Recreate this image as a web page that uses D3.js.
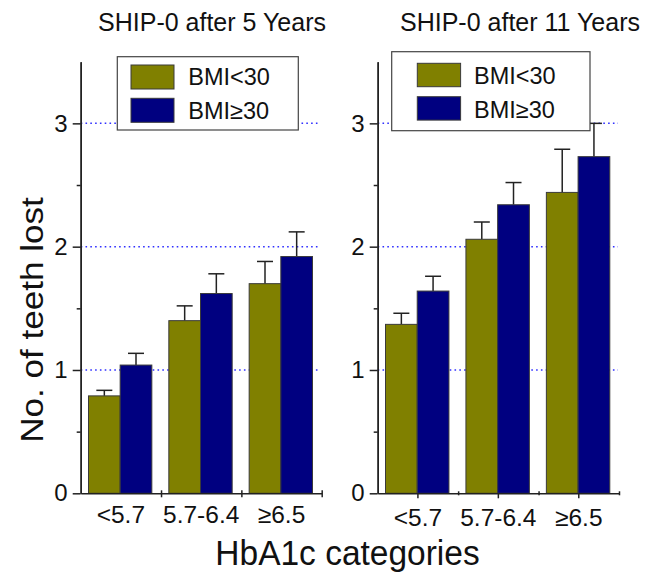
<!DOCTYPE html>
<html>
<head>
<meta charset="utf-8">
<script src="https://cdn.jsdelivr.net/npm/d3@7"></script>
<style>
  html, body { margin: 0; padding: 0; background: #fff; }
  svg { display: block; font-family: "Liberation Sans", Arial, sans-serif; }
</style>
</head>
<body>
<svg id="chart" width="667" height="574"></svg>
<script>
// HbA1c categories on the x axis
const categories = ["<5.7", "5.7-6.4", "\u22656.5"];
const groups = ["BMI<30", "BMI\u226530"];
const panelTitles = ["SHIP-0 after 5 Years", "SHIP-0 after 11 Years"];

// Mean number of teeth lost (and upper error) after 5 years
const fiveYrLowBmi = [0.79, 1.40, 1.70];
const fiveYrLowBmiErr = [0.045, 0.12, 0.18];
const fiveYrHighBmi = [1.04, 1.62, 1.92];
const fiveYrHighBmiErr = [0.095, 0.16, 0.20];

// Mean number of teeth lost (and upper error) after 11 years
const elevenYrLowBmi = [1.37, 2.06, 2.44];
const elevenYrLowBmiErr = [0.09, 0.14, 0.35];
const elevenYrHighBmi = [1.64, 2.34, 2.73];
const elevenYrHighBmiErr = [0.12, 0.18, 0.27];

const yMajorTicks = [0, 1, 2, 3];
const yMinorTicks = [0.5, 1.5, 2.5];
const gridValues = [1, 2, 3];

const colors = { "BMI<30": "#808000", "BMI\u226530": "#000080" };
const font = '"Liberation Sans", Arial, sans-serif';

const svg = d3.select("#chart");

const y = d3.scaleLinear().domain([0, 3.5]).range([493.3, 61.7]);

const panels = [
  {
    title: panelTitles[0], titleX: 212, x0: 80.7, x1: 321.7,
    low: fiveYrLowBmi, lowErr: fiveYrLowBmiErr,
    high: fiveYrHighBmi, highErr: fiveYrHighBmiErr,
    ticksAtCenters: false, labelY: 523,
    legend: { x: 117.3, y: 56.7, w: 181, h: 73.3, sx: 131, sw: 43, sh: 24,
              rows: [65, 98.3], tx: 188.3, base: [85, 119.3] }
  },
  {
    title: panelTitles[1], titleX: 520, x0: 377.7, x1: 619,
    low: elevenYrLowBmi, lowErr: elevenYrLowBmiErr,
    high: elevenYrHighBmi, highErr: elevenYrHighBmiErr,
    ticksAtCenters: true, labelY: 526,
    legend: { x: 391.7, y: 51.7, w: 198.3, h: 79, sx: 417.3, sw: 43.3, sh: 23.4,
              rows: [63.3, 96.7], tx: 474, base: [84, 118.3] }
  }
];

panels.forEach(p => {
  const g = svg.append("g");
  const x = d3.scaleBand().domain(categories).range([p.x0, p.x1]).padding(0);
  const bw = x.bandwidth();
  const xInner = d3.scaleBand().domain(groups).range([7.8, bw - 9.2]).padding(0);

  // dotted horizontal grid
  g.selectAll(".grid").data(gridValues).join("line")
    .attr("x1", p.x0).attr("x2", p.x1 - 1)
    .attr("y1", d => y(d)).attr("y2", d => y(d))
    .attr("stroke", "#3030ff").attr("stroke-width", 1.5)
    .attr("stroke-dasharray", "1.6,3.2");

  // bars
  const rows = categories.map((c, i) => [
    { cat: c, grp: groups[0], v: p.low[i], e: p.lowErr[i] },
    { cat: c, grp: groups[1], v: p.high[i], e: p.highErr[i] }
  ]).flat();

  // error bars (upper only)
  const eb = g.selectAll(".err").data(rows).join("g");
  const cx = d => x(d.cat) + xInner(d.grp) + xInner.bandwidth() / 2;
  eb.append("line")
    .attr("x1", cx).attr("x2", cx)
    .attr("y1", d => y(d.v)).attr("y2", d => y(d.v + d.e))
    .attr("stroke", "#222").attr("stroke-width", 1.5);
  eb.append("line")
    .attr("x1", d => cx(d) - 8).attr("x2", d => cx(d) + 8)
    .attr("y1", d => y(d.v + d.e)).attr("y2", d => y(d.v + d.e))
    .attr("stroke", "#222").attr("stroke-width", 1.5);

  g.selectAll(".bar").data(rows).join("rect")
    .attr("x", d => x(d.cat) + xInner(d.grp))
    .attr("width", xInner.bandwidth())
    .attr("y", d => y(d.v))
    .attr("height", d => y(0) - y(d.v))
    .attr("fill", d => colors[d.grp])
    .attr("stroke", "#3a3a3a").attr("stroke-width", 1);

  // y axis: labelled major ticks and short minor ticks
  const yMaj = g.append("g").attr("transform", `translate(${p.x0},0)`)
    .call(d3.axisLeft(y).tickValues(yMajorTicks).tickSize(8).tickSizeOuter(0).tickPadding(5).tickFormat(d3.format("d")));
  yMaj.selectAll("text").attr("font-size", 24).attr("font-family", font).attr("fill", "#111");
  const yMin = g.append("g").attr("transform", `translate(${p.x0},0)`)
    .call(d3.axisLeft(y).tickValues(yMinorTicks).tickSize(4).tickSizeOuter(0).tickFormat(""));
  [yMaj, yMin].forEach(a => {
    a.select(".domain").attr("stroke", "#222").attr("stroke-width", 1.5);
    a.selectAll(".tick line").attr("stroke", "#222").attr("stroke-width", 1.5);
  });

  // x axis
  const xb = d3.scaleLinear().domain([0, categories.length]).range([p.x0, p.x1]);
  const xa = g.append("g").attr("transform", `translate(0,${y(0)})`);
  if (p.ticksAtCenters) {
    xa.call(d3.axisBottom(x).tickSize(5).tickSizeOuter(0).tickFormat(""));
    const xm = g.append("g").attr("transform", `translate(0,${y(0)})`)
      .call(d3.axisBottom(xb).tickValues([1, 2, 3]).tickSize(2).tickSizeOuter(0).tickFormat(""));
    xm.select(".domain").remove();
    xm.selectAll(".tick line").attr("stroke", "#222").attr("stroke-width", 1.5).attr("y1", -2);
  } else {
    xa.call(d3.axisBottom(xb).tickValues([1, 2, 3]).tickSize(4).tickSizeOuter(0).tickFormat(""));
    xa.selectAll(".tick line").attr("y1", -3);
  }
  xa.select(".domain").attr("stroke", "#222").attr("stroke-width", 1.5);
  xa.selectAll(".tick line").attr("stroke", "#222").attr("stroke-width", 1.5);

  g.selectAll(".catlabel").data(categories).join("text")
    .attr("x", d => x(d) + bw / 2)
    .attr("y", p.labelY)
    .attr("text-anchor", "middle")
    .attr("font-size", 24.5).attr("font-family", font).attr("fill", "#111")
    .text(d => d);

  // panel title
  g.append("text")
    .attr("x", p.titleX).attr("y", 31)
    .attr("text-anchor", "middle")
    .attr("font-size", 25).attr("font-family", font).attr("fill", "#111")
    .text(p.title);

  // legend
  const L = p.legend;
  const lg = g.append("g");
  lg.append("rect").attr("x", L.x).attr("y", L.y).attr("width", L.w).attr("height", L.h)
    .attr("fill", "#fff").attr("stroke", "#444").attr("stroke-width", 1.2);
  groups.forEach((grp, i) => {
    lg.append("rect").attr("x", L.sx).attr("y", L.rows[i]).attr("width", L.sw).attr("height", L.sh)
      .attr("fill", colors[grp]).attr("stroke", "#3a3a3a").attr("stroke-width", 1);
    lg.append("text").attr("x", L.tx).attr("y", L.base[i])
      .attr("font-size", 23.5).attr("font-family", font).attr("fill", "#111")
      .text(grp);
  });
});

// shared axis titles
svg.append("text")
  .attr("transform", "translate(43.3,320) rotate(-90) scale(1.15,1)")
  .attr("text-anchor", "middle")
  .attr("font-size", 30.5).attr("font-family", font).attr("fill", "#111")
  .text("No. of teeth lost");

svg.append("text")
  .attr("transform", "translate(347.5,565) scale(1,1.04)")
  .attr("text-anchor", "middle")
  .attr("font-size", 33.5).attr("font-family", font).attr("fill", "#111")
  .text("HbA1c categories");
</script>
</body>
</html>
